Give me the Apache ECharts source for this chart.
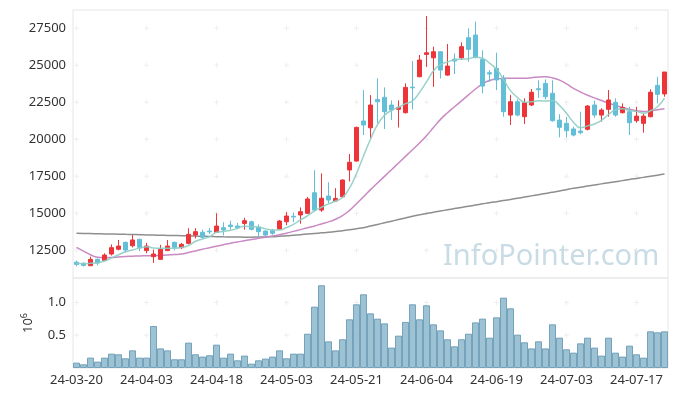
<!DOCTYPE html>
<html>
<head>
<meta charset="utf-8">
<script src="https://cdn.jsdelivr.net/npm/echarts@6/dist/echarts.min.js"></script>
<style>
html,body{margin:0;padding:0;background:#fff;}
#chart{width:677px;height:396px;}
</style>
</head>
<body>
<div id="chart"></div>
<script>
const dates = ["24-03-20","24-03-21","24-03-22","24-03-25","24-03-26","24-03-27","24-03-28","24-03-29",
"24-04-01","24-04-02","24-04-03","24-04-04","24-04-05","24-04-08","24-04-09","24-04-11","24-04-12","24-04-15","24-04-16","24-04-17","24-04-18","24-04-19","24-04-22","24-04-23","24-04-24","24-04-25","24-04-26","24-04-29","24-04-30",
"24-05-02","24-05-03","24-05-07","24-05-08","24-05-09","24-05-10","24-05-13","24-05-14","24-05-16","24-05-17","24-05-20","24-05-21","24-05-22","24-05-23","24-05-24","24-05-27","24-05-28","24-05-29","24-05-30","24-05-31",
"24-06-03","24-06-04","24-06-05","24-06-07","24-06-10","24-06-11","24-06-12","24-06-13","24-06-14","24-06-17","24-06-18","24-06-19","24-06-20","24-06-21","24-06-24","24-06-25","24-06-26","24-06-27","24-06-28",
"24-07-01","24-07-02","24-07-03","24-07-04","24-07-05","24-07-08","24-07-09","24-07-10","24-07-11","24-07-12","24-07-15","24-07-16","24-07-17","24-07-18","24-07-19","24-07-22","24-07-23"];

const openP  = [11700,11620,11460,11890,11820,12250,12570,13040,12810,13240,12480,12070,11890,12480,13040,12680,12970,13530,13720,13800,13720,14030,14210,14140,14320,14430,14050,13800,13820,13940,14430,14800,14890,15000,16390,15220,16170,15830,16120,17930,18530,21240,20780,22700,22840,22320,22030,21800,23530,24230,25740,25510,25920,24340,25420,25510,26870,27050,25400,24500,24800,24120,21640,22540,21530,22320,23420,23780,23110,21300,21080,20700,20560,20680,22320,21640,22030,22500,21800,21870,21260,21080,21530,23650,23070];
const closeP = [11550,11480,11890,11640,12180,12680,12790,12520,13200,12700,12790,12250,12570,12790,12700,12905,13580,13760,13380,13750,14140,13870,14100,14030,14500,13920,13760,13530,13650,14480,14820,14750,15110,15970,15220,16020,15900,16010,17250,18450,20810,20970,22320,22540,21870,21980,22160,23510,23480,25360,25850,25920,24680,24950,25290,26260,26080,25540,23600,24420,24010,21870,22540,21640,22470,23180,23350,22880,21260,20810,20580,20290,20450,22250,21640,21980,22660,21640,22160,21120,21570,21570,23180,23040,24550];
const lowP   = [11420,11400,11440,11480,11800,12150,12500,12350,12700,12450,12300,11650,11880,12450,12500,12600,12900,13300,13280,13600,13700,13500,13900,13950,13900,13850,13400,13480,13550,13900,14200,14400,14300,14950,15100,15100,15700,15800,16080,17150,18500,20290,20070,21080,20700,21300,20800,21750,22030,24200,24900,23550,24110,24300,24410,25380,25240,25470,23110,23880,23330,21530,20970,21550,21040,22250,22800,22700,21200,20130,20120,20200,20350,20600,21450,21200,21530,21530,21750,20290,21120,20450,21480,22430,22880];
const highP  = [11800,11700,12070,11950,12300,12900,13200,13090,13530,13300,13000,12550,12870,13200,13090,13000,13990,13990,13900,14000,15000,14400,14500,14350,14700,14500,14250,13850,13950,14550,15080,15050,15400,16100,17920,17700,17100,16700,17300,19010,20850,23330,22990,24120,23510,22630,22630,23780,25290,25700,28330,26260,25950,26440,25810,26550,27500,27950,26020,24680,25850,24340,22990,22700,22770,23400,23990,24050,23990,21700,21520,20850,21870,22320,22610,22100,23330,22770,22430,22200,22200,21760,23380,24230,24550];

const ma5 = [11620,11600,11620,11660,11780,11990,12200,12400,12520,12650,12740,12660,12640,12640,12640,12700,12820,13110,13270,13420,13720,13780,13850,13980,14130,14100,14070,13950,13880,13870,14040,14250,14560,14830,15170,15410,15640,15830,16070,16710,17690,18880,20010,20990,21630,21950,22170,22410,22600,23170,23880,24630,25060,25230,25370,25420,25450,25550,25480,25150,24730,24050,23290,22830,22510,22540,22600,22590,22630,22290,21760,21160,20790,20910,21040,21280,21680,21990,22070,21950,21890,21760,21930,22200,22780];
const ma20 = [12700,12450,12200,12030,12000,12020,12050,12080,12100,12120,12130,12140,12160,12180,12210,12250,12350,12460,12570,12680,12780,12880,12980,13060,13150,13230,13310,13390,13470,13560,13660,13780,13900,14020,14150,14280,14420,14600,14850,15200,15650,16120,16600,17050,17500,17950,18400,18850,19300,19750,20250,20800,21350,21800,22200,22600,23000,23400,23750,23980,24080,24120,24130,24130,24130,24170,24220,24230,24150,24000,23750,23450,23200,22980,22800,22620,22450,22300,22150,22030,21930,21880,21920,22000,22060];
const ma120 = [13650,13640,13630,13620,13610,13600,13590,13580,13570,13555,13540,13530,13520,13510,13500,13490,13475,13460,13450,13440,13425,13410,13400,13395,13390,13390,13395,13400,13420,13450,13480,13520,13560,13600,13640,13680,13720,13770,13830,13890,13960,14030,14140,14250,14360,14470,14580,14690,14800,14900,14990,15080,15160,15240,15320,15400,15480,15560,15640,15720,15790,15860,15940,16020,16100,16180,16260,16340,16420,16510,16600,16690,16760,16840,16910,16990,17060,17140,17210,17290,17360,17430,17510,17580,17660];

const volumeMillions = [0.082,0.057,0.159,0.098,0.159,0.22,0.21,0.149,0.27,0.159,
0.159,0.642,0.30,0.27,0.134,0.134,0.388,0.21,0.175,0.195,
0.357,0.159,0.22,0.118,0.19,0.067,0.118,0.144,0.175,0.27,
0.149,0.22,0.22,0.525,0.938,1.265,0.408,0.27,0.44,0.745,
0.974,1.127,0.836,0.755,0.683,0.312,0.495,0.705,0.974,0.745,
0.959,0.668,0.576,0.44,0.332,0.44,0.525,0.698,0.755,0.464,
0.775,1.076,0.913,0.51,0.393,0.30,0.408,0.30,0.668,0.464,
0.286,0.235,0.377,0.464,0.312,0.19,0.464,0.235,0.175,0.342,
0.21,0.159,0.561,0.546,0.561];

const priceTicks = [12500,15000,17500,20000,22500,25000,27500];
const volumeTicks = [0.5,1.0];
const labelEvery = 10;

const candleData = dates.map((d,i)=>[openP[i],closeP[i],lowP[i],highP[i]]);
const tickCols = dates.map((d,i)=>i).filter(i=>i%labelEvery===0);
const plusMain = [];
tickCols.forEach(c=>priceTicks.forEach(v=>plusMain.push([c,v])));
const plusVol = [];
tickCols.forEach(c=>volumeTicks.forEach(v=>plusVol.push([c,v])));
const plusPath = 'path://M2,0H3V2H5V3H3V5H2V3H0V2H2Z';
const FONT = '"Noto Sans", sans-serif';

const chart = echarts.init(document.getElementById('chart'), null, {renderer:'canvas'});
chart.setOption({
  animation:false,
  backgroundColor:'#fff',
  textStyle:{fontFamily:FONT},
  grid:[
    {left:73, right:9, top:10, height:268, show:true, borderColor:'#e6e6e6', borderWidth:1, backgroundColor:'transparent'},
    {left:73, right:9, top:278, height:90, show:true, borderColor:'#e6e6e6', borderWidth:1, backgroundColor:'transparent'}
  ],
  xAxis:[
    {type:'category', gridIndex:0, data:dates, boundaryGap:true,
     axisLine:{show:false}, axisTick:{show:false}, axisLabel:{show:false}, splitLine:{show:false}},
    {type:'category', gridIndex:1, data:dates, boundaryGap:true,
     axisLine:{show:false}, axisTick:{show:false}, splitLine:{show:false},
     axisLabel:{show:true, interval:labelEvery-1, color:'#333', fontSize:13, fontFamily:FONT, margin:6}}
  ],
  yAxis:[
    {type:'value', gridIndex:0, min:10630, max:28740, scale:true,
     axisLine:{show:false}, axisTick:{show:false}, splitLine:{show:false},
     axisLabel:{show:true, customValues:priceTicks, color:'#333', fontSize:13, fontFamily:FONT, margin:7,
       formatter:v=>String(v)}},
    {type:'value', gridIndex:1, min:0, max:1.376,
     name:'{a|10}{b|6}', nameLocation:'middle', nameRotate:90, nameGap:36,
     nameTextStyle:{rich:{a:{fontSize:13, color:'#333', fontFamily:FONT}, b:{fontSize:9, color:'#333', fontFamily:FONT, padding:[0,0,8,0]}}},
     axisLine:{show:false}, axisTick:{show:false}, splitLine:{show:false},
     axisLabel:{show:true, customValues:volumeTicks, color:'#333', fontSize:13, fontFamily:FONT, margin:7,
       formatter:v=>v.toFixed(1)}}
  ],
  graphic:[
    {type:'text', left:443, top:242, z:0, silent:true,
     style:{text:'InfoPointer.com', font:'29px "Noto Sans"', fill:'#c9dce6'}}
  ],
  series:[
    {type:'scatter', xAxisIndex:0, yAxisIndex:0, data:plusMain, symbol:plusPath, symbolSize:5,
     itemStyle:{color:'#ebebeb'}, silent:true, z:1},
    {type:'scatter', xAxisIndex:1, yAxisIndex:1, data:plusVol, symbol:plusPath, symbolSize:5,
     itemStyle:{color:'#ebebeb'}, silent:true, z:1},
    {type:'line', xAxisIndex:0, yAxisIndex:0, data:ma120, smooth:true, showSymbol:false,
     lineStyle:{color:'#8e8e8e', width:1.5}, z:3},
    {type:'line', xAxisIndex:0, yAxisIndex:0, data:ma20, smooth:true, showSymbol:false,
     lineStyle:{color:'#c98ac4', width:1.5}, z:3},
    {type:'candlestick', xAxisIndex:0, yAxisIndex:0, data:candleData, barWidth:4,
     itemStyle:{color:'#ec3439', color0:'#63bfd8', borderColor:'#ec3439', borderColor0:'#63bfd8', borderWidth:1}, z:4},
    {type:'line', xAxisIndex:0, yAxisIndex:0, data:ma5, smooth:true, showSymbol:false,
     lineStyle:{color:'#8dcdc3', width:1.5, opacity:0.9}, z:5},
    {type:'bar', xAxisIndex:1, yAxisIndex:1, data:volumeMillions, barCategoryGap:'0%',
     itemStyle:{color:'rgba(135,180,202,0.82)', borderColor:'rgba(95,148,175,0.8)', borderWidth:1}, z:3}
  ]
});
</script>
</body>
</html>
